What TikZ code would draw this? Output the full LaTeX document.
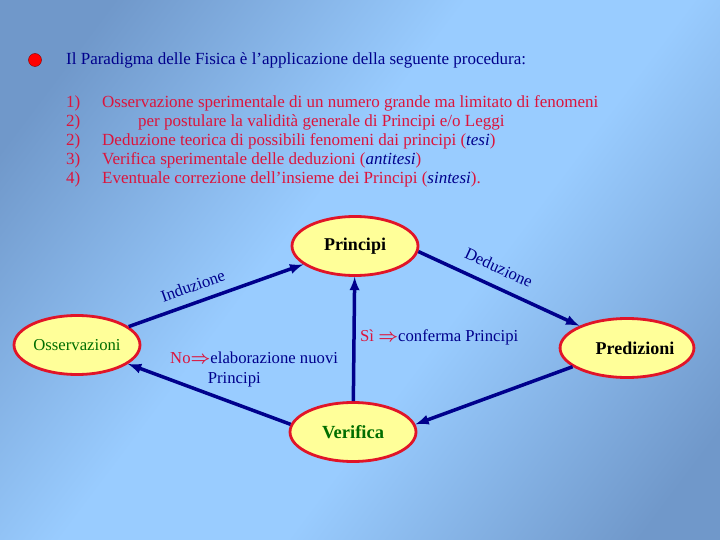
\documentclass[tikz,border=0pt]{standalone}
\usepackage{fontspec}
\setmainfont{Liberation Serif}
\usetikzlibrary{arrows,shapes.geometric,positioning}

\definecolor{navy}{RGB}{0,0,140}
\definecolor{crimson}{RGB}{220,20,60}
\definecolor{leaf}{RGB}{0,110,0}
\definecolor{cream}{RGB}{255,255,153}
\definecolor{ringred}{RGB}{225,20,40}
\definecolor{skydark}{RGB}{112,152,202}
\definecolor{skylight}{RGB}{153,204,255}

\pgfdeclarehorizontalshading{sky}{100bp}{color(0bp)=(skydark); color(22bp)=(skydark); color(44bp)=(skylight); color(58bp)=(skylight); color(80bp)=(skydark); color(100bp)=(skydark)}

\tikzset{
	idea/.style={ellipse, draw=ringred, line width=2.8pt, fill=cream, minimum width=126pt, minimum height=59pt, inner sep=0pt},
	flow/.style={draw=navy, line width=3.5pt, -latex},
	note/.style={text=navy, font=\fontsize{16.7}{20}\selectfont},
	item/.style={anchor=west, text=crimson, inner sep=0pt, font=\fontsize{17}{17}\selectfont},
}

\begin{document}
\begin{tikzpicture}[x=1pt, y=-1pt]
	\shade[shading=sky, shading angle=-37] (0,0) rectangle (720,540);
	\useasboundingbox (0,0) rectangle (720,540);

	% heading
	\node[circle, draw=red!50!black, fill=red, minimum width=12pt, minimum height=13pt, inner sep=0pt] (dot) at (35, 60) {};
	\node[item, text=navy] (title) at (66, 60) {Il Paradigma delle Fisica è l’applicazione della seguente procedura:};

	% the list
	\node[item] (n1) at (66, 103) {1)};
	\node[item] (n2) at (66, 122) {2)};
	\node[item] (n3) at (66, 141) {2)};
	\node[item] (n4) at (66, 160) {3)};
	\node[item] (n5) at (66, 179) {4)};
	\node[item] (t1) at (102, 103) {Osservazione sperimentale di un numero grande ma limitato di fenomeni};
	\node[item] (t2) at (138, 122) {per postulare la validità generale di Principi e/o Leggi};
	\node[item] (t3) at (102, 141) {Deduzione teorica di possibili fenomeni dai principi (\textcolor{navy}{\textit{tesi}})};
	\node[item] (t4) at (102, 160) {Verifica sperimentale delle deduzioni (\textcolor{navy}{\textit{antitesi}})};
	\node[item] (t5) at (102, 179) {Eventuale correzione dell’insieme dei Principi (\textcolor{navy}{\textit{sintesi}}).};

	% the cycle
	\node[idea, font=\fontsize{18}{18}\selectfont\bfseries] (principi) at (355, 246) {Principi};
	\node[idea, text=leaf, font=\fontsize{16.7}{17}\selectfont] (osserv) at (77, 345) {Osservazioni};
	\node[idea, font=\fontsize{18}{18}\selectfont\bfseries] (predizioni) at (627, 348) {\hspace{16pt}Predizioni};
	\node[idea, text=leaf, font=\fontsize{18.5}{18}\selectfont\bfseries] (verifica) at (353, 432) {Verifica};

	\draw[flow] (osserv) to node[note, sloped, above=6pt, pos=0.4] (ind) {Induzione} (principi);
	\draw[flow] (principi.-5) to node[note, sloped, above=8pt, pos=0.45] (ded) {Deduzione} (predizioni.155);
	\draw[flow] (predizioni.199) to (verifica.7);
	\draw[flow] (verifica) to (principi);
	\draw[flow] (verifica.173) to (osserv);

	\node[note, anchor=west, inner sep=0pt] (si) at (360, 337) {\textcolor{crimson}{Sì \boldmath$\Rightarrow$}conferma Principi};
	\node[note, anchor=north west, inner sep=0pt, align=left] (no) at (170, 352) {\textcolor{crimson}{No\boldmath$\Rightarrow$}elaborazione nuovi\\\phantom{No$\Rightarrow$}Principi};
\end{tikzpicture}
\end{document}
